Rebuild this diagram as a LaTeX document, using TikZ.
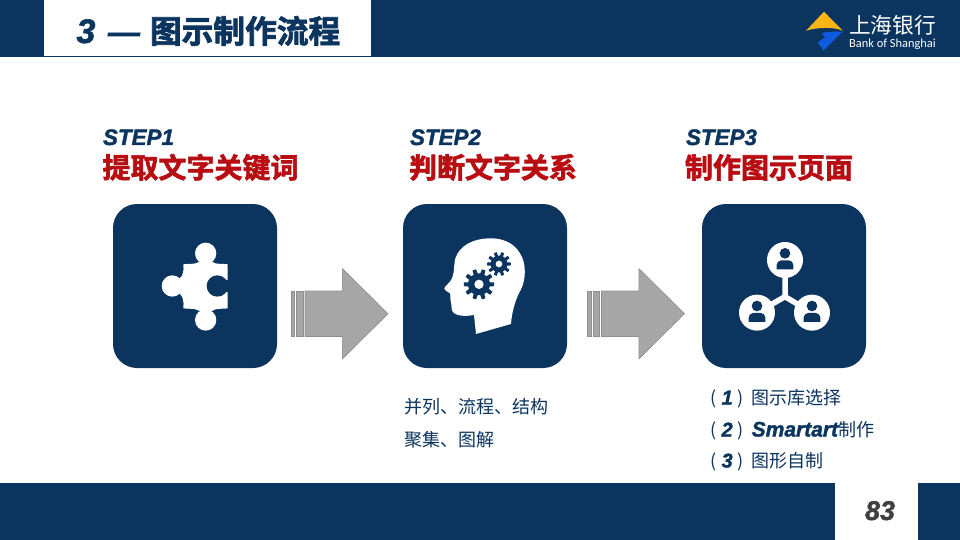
\documentclass[tikz,border=0pt]{standalone}
\usepackage{fontspec}
\setmainfont{Liberation Sans}
\newfontfamily\cjk{Noto Sans CJK SC}
\newfontfamily\cjkbold[FakeBold=2.2]{Noto Sans CJK SC Bold}
\newfontfamily\latbi[FakeBold=1.6]{Liberation Sans Bold Italic}
\newfontfamily\logolatin{Carlito}
\definecolor{navy}{HTML}{0B345F}
\definecolor{stepred}{HTML}{B80D12}
\definecolor{arrowgrey}{HTML}{A6A6A6}
\definecolor{arrowedge}{HTML}{8E8E8E}
\definecolor{pagegrey}{HTML}{404040}
\definecolor{logogold}{HTML}{FDB515}
\definecolor{logoblue}{HTML}{0F5BE0}
\newcommand{\fs}[1]{\fontsize{#1}{#1}\selectfont}
\newcommand{\bi}[2]{{\latbi\fs{#1}#2}}
\newcommand{\listmark}[1]{\makebox[41.7pt][l]{(\hspace{5.5pt}\bi{20}{#1}\hspace{5pt})}}
\newcommand{\gearshape}[5]{% cx cy outer inner hole
  \fill[navy] ({#1+#3*cos(-7)},{#2+#3*sin(-7)})
    \foreach \k in {0,...,9}{
      -- ({#1+#3*cos(36*\k-7)},{#2+#3*sin(36*\k-7)})
      -- ({#1+#3*cos(36*\k+7)},{#2+#3*sin(36*\k+7)})
      -- ({#1+#4*cos(36*\k+11)},{#2+#4*sin(36*\k+11)})
      -- ({#1+#4*cos(36*\k+25)},{#2+#4*sin(36*\k+25)})
    } -- cycle;
  \fill[white] (#1,#2) circle (#5);
}
\newcommand{\personicon}[2]{% cx cy
  \fill[white] (#1,#2) circle (54);
  \fill[navy] (#1,#2-20) circle (16);
  \fill[navy] (#1-25,#2+28) -- (#1-25,#2+15) to[out=90,in=180] (#1-11,#2+1) -- (#1+11,#2+1) to[out=0,in=90] (#1+25,#2+15) -- (#1+25,#2+28) -- cycle;
}
\newcommand{\blockarrow}[1]{% x offset
  \begin{scope}[xshift=#1]
    \draw[arrowshape] (291,291) rectangle (294.5,336.5);
    \draw[arrowshape] (296.5,291) rectangle (303,336.5);
    \draw[arrowshape] (305,291) -- (342.3,291) -- (342.3,268.5) -- (388,313.7) -- (342.3,359) -- (342.3,336.5) -- (305,336.5) -- cycle;
  \end{scope}
}
\tikzset{
  x=1pt,y=-1pt,
  bar/.style={fill=navy,draw=none},
  panel/.style={fill=white,draw=none},
  iconbox/.style={fill=navy,draw=none,rounded corners=24pt},
  arrowshape/.style={fill=arrowgrey,draw=arrowedge,line width=0.6pt,line join=miter},
  txt/.style={anchor=base west,inner sep=0pt,outer sep=0pt,text=navy},
  steptitle/.style={txt,text=stepred},
  zoomed/.style={x=0.3333pt,y=-0.3333pt},
}
\begin{document}
\begin{tikzpicture}
\useasboundingbox (0,0) rectangle (960,540);
\fill[white] (0,0) rectangle (960,540);
% bars
\fill[bar] (0,0) rectangle (960,57);
\fill[panel] (44,0) rectangle (371,56);
\fill[bar] (0,483) rectangle (960,540);
\fill[panel] (835,483) rectangle (918,540);
% title
\node[txt] (title3) at (76.5,43) {\bi{34}{3}};
\node[txt] (titledash) at (108,43) {\bi{32}{—}};
\node[txt] (title) at (150,43) {\cjkbold\fs{31.7}图示制作流程};
\node[anchor=base,inner sep=0pt,text=pagegrey] (page) at (880,520) {\bi{27}{83}};
% logo
\fill[logogold] (824,11.7) -- (806,30.7) .. controls (818,27) and (835,27) .. (842.7,30.7) -- cycle;
\fill[logoblue] (821.5,33) .. controls (830,31.5) and (838,31.5) .. (842.7,31.5) -- (823.5,50.5) -- (817.5,42.5) -- (825,37.5) -- cycle;
\node[anchor=base west,inner sep=0pt,text=white] (logocn) at (849,33.5) {\cjk\fs{21.7}上海银行};
\node[anchor=base west,inner sep=0pt,text=white] (logoen) at (849,47.5) {\logolatin\fs{12.4}Bank of Shanghai};
% step headings
\node[txt] (s1) at (103,145) {\bi{22.4}{STEP1}};
\node[txt] (s2) at (410,145) {\bi{22.4}{STEP2}};
\node[txt] (s3) at (686,145) {\bi{22.4}{STEP3}};
\node[steptitle] (h1) at (102.5,178) {\cjkbold\fs{28}提取文字关键词};
\node[steptitle] (h2) at (409,178) {\cjkbold\fs{28}判断文字关系};
\node[steptitle] (h3) at (685,178) {\cjkbold\fs{28}制作图示页面};
% boxes
\fill[iconbox] (113,204) rectangle (277,368);
\fill[iconbox] (403,204) rectangle (567,368);
\fill[iconbox] (702,204) rectangle (866,368);
% arrows
\blockarrow{0pt}
\blockarrow{296.5pt}
% puzzle icon
\begin{scope}[shift={(140,230)},zoomed]
  \fill[white] (130,103) .. controls (145,100) and (165,105) .. (178,95) -- (216,95) .. controls (228,105) and (248,100) .. (263,103) -- (263,235) .. controls (248,238) and (228,233) .. (216,243) -- (178,243) .. controls (165,233) and (145,238) .. (130,235) .. controls (132,215) and (130,200) .. (118,190) -- (118,146) .. controls (130,138) and (132,120) .. (130,103) -- cycle;
  \fill[white] (197,70) circle (32);
  \fill[white] (197,270) circle (32);
  \fill[white] (97,168) circle (32);
  \fill[navy] (232,168) circle (32);
  \fill[navy] (240,146) -- (266,151) -- (266,185) -- (240,190) -- cycle;
\end{scope}
% head icon
\begin{scope}[shift={(400,200)},zoomed]
  \fill[white] (228,402) -- (333,372) .. controls (335,340) and (345,300) .. (362,270) .. controls (378,240) and (380,190) .. (360,160) .. controls (340,125) and (300,113) .. (265,115) .. controls (220,117) and (180,135) .. (166,175) .. controls (160,200) and (165,225) .. (150,245) .. controls (145,252) and (135,258) .. (133,265) .. controls (133,272) and (145,275) .. (150,280) .. controls (154,288) and (148,300) .. (153,305) .. controls (150,312) and (158,318) .. (155,325) .. controls (155,345) and (185,352) .. (222,345) -- cycle;
  \gearshape{237}{253}{46}{33}{14}
  \gearshape{297}{192}{36}{25}{10}
\end{scope}
% network icon
\begin{scope}[shift={(700,200)},zoomed]
  \draw[white,line width=5.5pt] (255,180) -- (255,290) -- (171,338);
  \draw[white,line width=5.5pt] (255,290) -- (336,338);
  \personicon{255}{180}
  \personicon{171}{338}
  \personicon{336}{338}
\end{scope}
% body text
\node[txt] (m1) at (404,413.5) {\cjk\fs{18}并列、流程、结构};
\node[txt] (m2) at (404,446) {\cjk\fs{18}聚集、图解};
\node[txt] (l1) at (710,404.5) {\cjk\fs{18}\listmark{1}图示库选择};
\node[txt] (l2) at (710,436.5) {\cjk\fs{18}\listmark{2}\bi{21}{Smartart}制作};
\node[txt] (l3) at (710,467.5) {\cjk\fs{18}\listmark{3}图形自制};
\end{tikzpicture}
\end{document}
